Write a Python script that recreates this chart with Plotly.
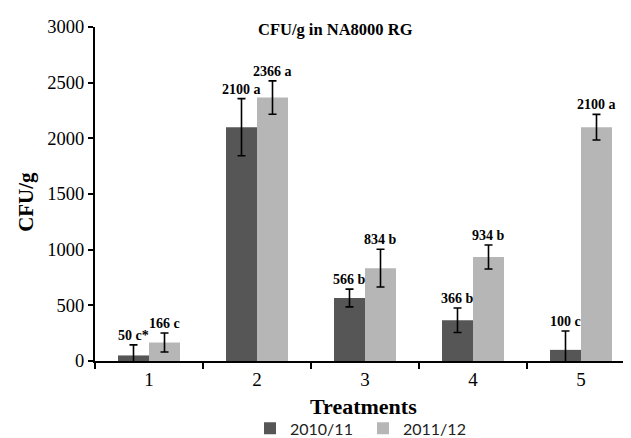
import plotly.graph_objects as go

categories = ["1", "2", "3", "4", "5"]
series_names = ["2010/11", "2011/12"]
values_2010 = [50, 2100, 566, 366, 100]
errors_2010 = [95, 257, 80, 110, 170]
values_2011 = [166, 2366, 834, 934, 2100]
errors_2011 = [85, 150, 170, 108, 115]
labels_2010 = ["50 c*", "2100 a", "566 b", "366 b", "100 c"]
labels_2011 = ["166 c", "2366 a", "834 b", "934 b", "2100 a"]
y_ticks = [0, 500, 1000, 1500, 2000, 2500, 3000]

SERIF = "Liberation Serif"

fig = go.Figure()
for name, vals, errs, col in [
    (series_names[0], values_2010, errors_2010, "#565656"),
    (series_names[1], values_2011, errors_2011, "#b6b6b6"),
]:
    fig.add_trace(go.Bar(
        x=categories, y=vals, name=name, marker=dict(color=col, line=dict(width=0)),
        error_y=dict(type="data", array=errs, color="black", thickness=1.6, width=4),
    ))

for labels, vals, errs, shift in [(labels_2010, values_2010, errors_2010, -15.5),
                                  (labels_2011, values_2011, errors_2011, 15.5)]:
    for i, (lab, v, e) in enumerate(zip(labels, vals, errs)):
        fig.add_annotation(x=i, y=v + e, text=lab, showarrow=False, xshift=shift,
                           yanchor="bottom", yshift=0,
                           font=dict(family=SERIF, size=14, color="black", weight="bold"))

fig.add_annotation(xref="paper", yref="paper", x=0.448, y=1.0, text="CFU/g in NA8000 RG",
                   showarrow=False, yanchor="middle", yshift=-2,
                   font=dict(family=SERIF, size=16.5, color="black", weight="bold"))
fig.add_annotation(xref="paper", yref="paper", x=-0.129, y=0.476, text="CFU/g",
                   showarrow=False, textangle=-90, xanchor="center", yanchor="middle",
                   font=dict(family=SERIF, size=21, color="black", weight="bold"))
fig.add_annotation(xref="paper", yref="paper", x=0.5, y=-0.137, text="Treatments",
                   showarrow=False, xanchor="center", yanchor="middle",
                   font=dict(family=SERIF, size=22, color="black", weight="bold"))

fig.update_layout(
    width=623, height=430,
    font=dict(family=SERIF, color="black"),
    margin=dict(l=87, r=0, t=19, b=77, autoexpand=False),
    paper_bgcolor="white", plot_bgcolor="white",
    barmode="group", bargap=0.426, bargroupgap=0,
    showlegend=True,
    legend=dict(orientation="h", x=0.5, xanchor="center", y=-0.151, yanchor="top",
                font=dict(family="Lato", size=16, color="#222"),
                itemwidth=30, entrywidth=68, entrywidthmode="pixels", traceorder="normal"),
    xaxis=dict(type="category", range=[-0.5, 4.463], showgrid=False, automargin=False,
               showline=True, linecolor="black", linewidth=2,
               ticks="outside", tickson="boundaries", ticklen=6, tickwidth=2, tickcolor="black",
               tickfont=dict(family=SERIF, size=19, color="black")),
    yaxis=dict(range=[0, 3000], tickvals=y_ticks, showgrid=False, zeroline=False, automargin=False,
               showline=True, linecolor="black", linewidth=2,
               ticks="outside", ticklen=5, tickwidth=2, tickcolor="black",
               tickfont=dict(family=SERIF, size=18.5, color="black")),
)

fig.write_html("out.html")
